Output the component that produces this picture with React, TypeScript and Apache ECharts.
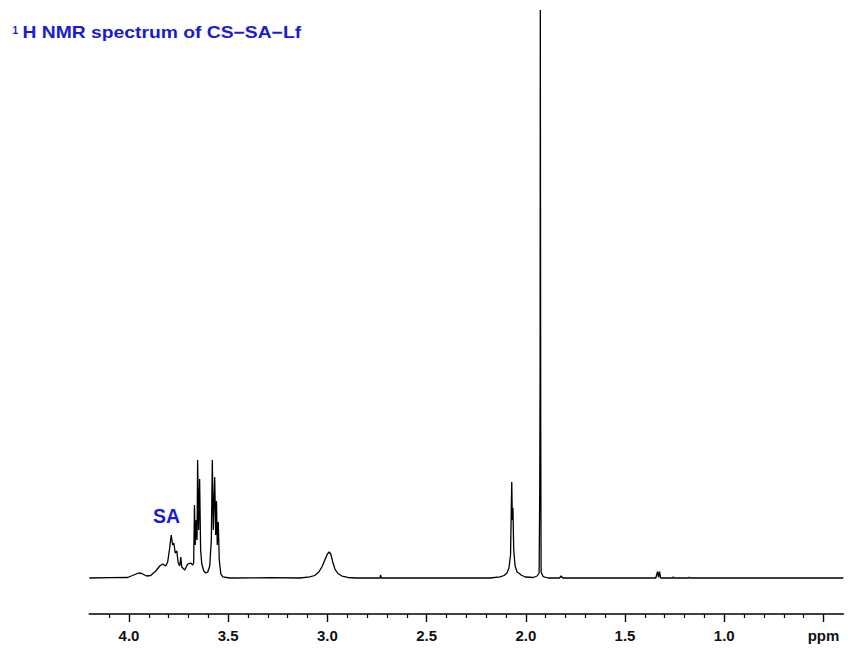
import React, { useEffect, useRef } from "react";
import * as echarts from "echarts";

// Chemical shift (ppm) and relative intensity (tallest line = 100)
const ppmValues = [
  4.2, 4.097, 4.007, 3.976, 3.951, 3.936, 3.911, 3.891, 3.865, 3.845, 3.83, 3.815, 3.805,
  3.795, 3.787, 3.78, 3.774, 3.767, 3.759, 3.752, 3.744, 3.739, 3.734, 3.719, 3.704, 3.689,
  3.679, 3.674, 3.67, 3.666, 3.661, 3.657, 3.654, 3.649, 3.644, 3.639, 3.633, 3.623, 3.613,
  3.603, 3.593, 3.585, 3.58, 3.575, 3.568, 3.563, 3.559, 3.555, 3.55, 3.545, 3.537, 3.527,
  3.492, 3.29, 3.139, 3.089, 3.064, 3.043, 3.028, 3.013, 3.0, 2.991, 2.983, 2.973, 2.962,
  2.947, 2.927, 2.897, 2.856, 2.735, 2.732, 2.728, 2.18, 2.13, 2.11, 2.095, 2.085, 2.077,
  2.071, 2.068, 2.065, 2.061, 2.054, 2.044, 2.032, 2.024, 2.003, 1.963, 1.943, 1.933, 1.93,
  1.928, 1.927, 1.925, 1.923, 1.913, 1.888, 1.83, 1.822, 1.814, 1.345, 1.336, 1.331, 1.326,
  1.321, 1.26, 1.257, 1.254, 1.179, 1.176, 1.173, 0.4,
];
const intensityValues = [
  0, 0.05, 0.09, 0.53, 0.88, 0.79, 0.35, 0.44, 1.23, 2.11, 2.46, 2.11, 2.82,
  5.28, 7.57, 5.81, 6.16, 4.4, 4.75, 2.64, 2.11, 3.7, 1.94, 1.41, 2.46, 2.64,
  2.29, 2.64, 12.85, 5.81, 10.21, 6.69, 20.77, 8.45, 17.43, 4.93, 2.46, 1.23, 0.88,
  1.06, 2.11, 6.69, 20.77, 8.45, 17.78, 7.57, 13.56, 5.81, 9.86, 3.17, 0.7, 0.18,
  0, 0.05, 0, 0.18, 0.44, 1.06, 1.94, 3.17, 4.23, 4.58, 4.23, 2.82, 1.58,
  0.79, 0.35, 0.09, 0, 0, 0.53, 0, 0, 0.18, 0.44, 0.88, 1.76, 4.05,
  16.9, 10.21, 12.32, 4.93, 2.11, 1.06, 0.79, 0.53, 0.18, 0.09, 0.35, 0.88, 14.96,
  36.62, 100, 27.82, 1.06, 0.26, 0, 0, 0.35, 0, 0, 1.14, 0.1, 1.14,
  0, 0, 0.2, 0, 0, 0.15, 0, 0,
];

const majorTicks = [4.0, 3.5, 3.0, 2.5, 2.0, 1.5, 1.0, 0.5];
const minorTicks = [
  4.1, 3.9, 3.8, 3.7, 3.6, 3.4, 3.3, 3.2, 3.1, 2.9, 2.8, 2.7, 2.6, 2.4, 2.3, 2.2, 2.1,
  1.9, 1.8, 1.7, 1.6, 1.4, 1.3, 1.2, 1.1, 0.9, 0.8, 0.7, 0.6,
];
const unitLabel = "ppm";
const titleSup = "1";
const titleText = "H NMR spectrum of CS−SA−Lf";
const peakLabel = "SA";

const BLUE = "#1a1ad6";
const FONT = "'Liberation Sans', Arial, Helvetica, sans-serif";

export default function App() {
  const ref = useRef<HTMLDivElement>(null);

  useEffect(() => {
    if (!ref.current) return;
    const chart = echarts.init(ref.current, null, { renderer: "svg" });
    const data = ppmValues.map((p, i) => [p, intensityValues[i]]);
    chart.setOption({
      animation: false,
      backgroundColor: "#ffffff",
      grid: { left: 89.3, right: 4.7, top: 10, bottom: 75, containLabel: false },
      xAxis: [
        {
          type: "value",
          min: 0.4,
          max: 4.2,
          inverse: true,
          position: "bottom",
          offset: 36,
          splitLine: { show: false },
          axisLine: { show: true, onZero: false, lineStyle: { color: "#000", width: 1.6 } },
          axisTick: {
            show: true,
            length: 8,
            customValues: majorTicks,
            lineStyle: { color: "#000", width: 1.4 },
          },
          axisLabel: {
            show: true,
            customValues: majorTicks,
            margin: 14,
            color: "#111",
            fontSize: 15,
            fontWeight: "bold",
            fontFamily: FONT,
            formatter: (v: number) => (Math.abs(v - 0.5) < 1e-9 ? unitLabel : v.toFixed(1)),
          },
        },
        {
          type: "value",
          min: 0.4,
          max: 4.2,
          inverse: true,
          position: "bottom",
          offset: 36,
          splitLine: { show: false },
          axisLine: { show: false, onZero: false },
          axisTick: {
            show: true,
            length: 4,
            customValues: minorTicks,
            lineStyle: { color: "#000", width: 1.2 },
          },
          axisLabel: { show: false },
        },
      ],
      yAxis: { type: "value", min: 0, max: 100, show: false },
      series: [
        {
          type: "line",
          xAxisIndex: 0,
          data,
          showSymbol: false,
          symbol: "none",
          clip: false,
          lineStyle: { color: "#000", width: 1.3 },
          silent: true,
        },
      ],
      graphic: [
        {
          type: "text",
          left: 12.5,
          top: 25,
          style: { text: titleSup, fill: BLUE, font: `bold 10px ${FONT}` },
        },
        {
          type: "text",
          x: 22.5,
          y: 24,
          scaleX: 1.17,
          style: { text: titleText, fill: BLUE, font: `bold 16.5px ${FONT}`, textVerticalAlign: "top" },
        },
        {
          type: "text",
          left: 153,
          top: 506,
          style: { text: peakLabel, fill: BLUE, font: `bold 19.5px ${FONT}` },
        },
      ],
    });
    return () => chart.dispose();
  }, []);

  return (
    <div
      ref={ref}
      style={{ position: "fixed", left: 0, top: 0, width: 848, height: 653, background: "#fff" }}
    />
  );
}
